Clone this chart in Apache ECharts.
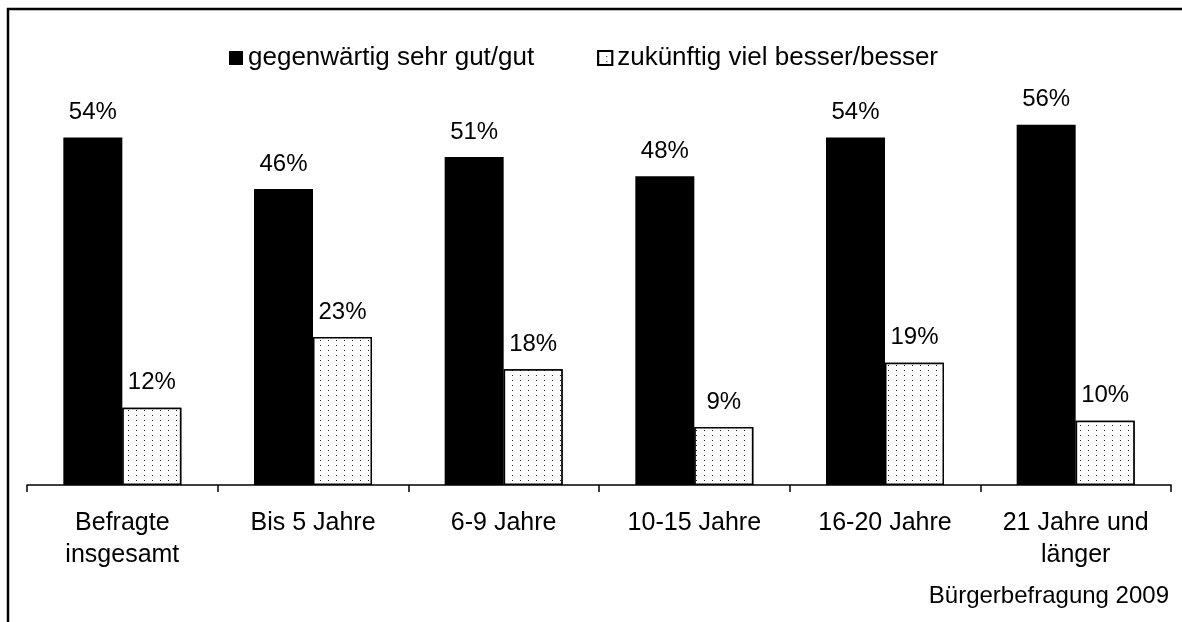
<!DOCTYPE html>
<html>
<head>
<meta charset="utf-8">
<script src="https://cdn.jsdelivr.net/npm/echarts@6/dist/echarts.min.js"></script>
<style>
  html, body { margin: 0; padding: 0; background: #fff; }
  #chart { width: 1182px; height: 622px; }
</style>
</head>
<body>
<div id="chart"></div>
<script>
// Kategorien (Wohndauer)
const categories = ['Befragte\ninsgesamt', 'Bis 5 Jahre', '6-9 Jahre', '10-15 Jahre', '16-20 Jahre', '21 Jahre und\nlänger'];
const seriesNames = ['gegenwärtig sehr gut/gut', 'zukünftig viel besser/besser'];
const gegenwaertig = [54, 46, 51, 48, 54, 56];
const zukuenftig = [12, 23, 18, 9, 19, 10];
const sourceNote = 'Bürgerbefragung 2009';

const FONT = '"Liberation Sans", Arial, sans-serif';

const chart = echarts.init(document.getElementById('chart'));

const dots = {
  symbol: 'rect',
  symbolSize: 1,
  dashArrayX: [1, 6.5],
  dashArrayY: [1, 4],
  color: '#222',
  backgroundColor: '#fff'
};

chart.setOption({
  animation: false,
  backgroundColor: '#fff',
  textStyle: { fontFamily: FONT, color: '#000' },
  legend: {
    left: 229,
    top: 45,
    padding: 0,
    itemWidth: 14,
    itemHeight: 14,
    itemGap: 63,
    icon: 'rect',
    textStyle: { fontSize: 26, color: '#000', fontFamily: FONT },
    data: seriesNames
  },
  grid: { left: 27, right: 11, top: 99, bottom: 137 },
  xAxis: {
    type: 'category',
    data: categories,
    axisLine: { lineStyle: { color: '#000', width: 1.5 } },
    axisTick: { show: true, alignWithLabel: false, length: 7, lineStyle: { color: '#000', width: 1.5 } },
    axisLabel: { color: '#000', fontSize: 25, lineHeight: 32, margin: 22, interval: 0 }
  },
  yAxis: {
    type: 'value',
    min: 0,
    max: 60,
    show: false
  },
  series: [
    {
      name: seriesNames[0],
      type: 'bar',
      data: gegenwaertig,
      barWidth: 59,
      barGap: '0%',
      itemStyle: { color: '#000' },
      label: { show: true, position: 'top', distance: 13, formatter: '{c}%', fontSize: 24, color: '#000' }
    },
    {
      name: seriesNames[1],
      type: 'bar',
      data: zukuenftig,
      barWidth: 59,
      barGap: '0%',
      itemStyle: { color: '#fff', borderColor: '#000', borderWidth: 1.5, decal: dots },
      label: { show: true, position: 'top', distance: 13, formatter: '{c}%', fontSize: 24, color: '#000' }
    }
  ],
  graphic: [
    {
      type: 'rect',
      shape: { x: 8, y: 9, width: 1400, height: 800 },
      style: { fill: 'none', stroke: '#000', lineWidth: 2.5 },
      silent: true
    },
    {
      type: 'text',
      right: 13,
      top: 584,
      style: { text: sourceNote, font: '24px ' + FONT, fill: '#000' }
    }
  ]
});
</script>
</body>
</html>
